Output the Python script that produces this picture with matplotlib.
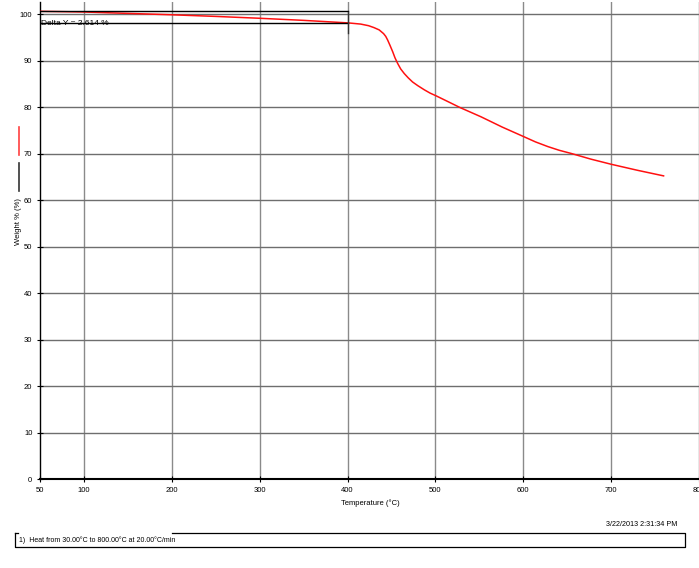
import matplotlib.pyplot as plt
from matplotlib.lines import Line2D

plt.rcParams['font.family'] = ['Liberation Sans', 'DejaVu Sans']

# TGA curve
temperature = [50, 100, 150, 200, 250, 300, 350, 401, 415, 424, 430, 436, 441, 443.5, 445.7,
               448.5, 451.4, 454, 457, 460.5, 464.6, 469, 474, 480, 487.5, 494, 501,
               514, 528, 552, 576, 601, 614, 628, 641, 655, 677, 700, 730, 759.7]
weight = [100.6, 100.45, 100.15, 99.85, 99.5, 99.1, 98.65, 98.1, 97.85, 97.5, 97.1, 96.6,
          95.8, 95.2, 94.4, 93.2, 91.9, 90.6, 89.4, 88.2, 87.2, 86.3, 85.4, 84.6, 83.7,
          83.0, 82.4, 81.2, 79.9, 77.9, 75.7, 73.6, 72.5, 71.5, 70.7, 70.0, 68.8, 67.7,
          66.4, 65.2]

delta_x = [50, 400]
delta_top = 100.75
delta_bottom = 98.14
delta_label = "Delta Y = 2.614 %"

x_ticks = [50, 100, 200, 300, 400, 500, 600, 700, 800]
y_ticks = [0, 10, 20, 30, 40, 50, 60, 70, 80, 90, 100]

W, H = 699, 568
fig = plt.figure(figsize=(W / 100, H / 100), dpi=100)
ax = fig.add_axes([40 / W, 1 - 479 / H, 659 / W, 477 / H])

ax.set_xlim(50, 800)
ax.set_ylim(0, 102.6)

for x in x_ticks[1:]:
    ax.axvline(x, color='#8a8a8a', lw=1.0, zorder=1)
for y in y_ticks[1:]:
    ax.axhline(y, color='#6e6e6e', lw=1.0, zorder=1)

ax.plot(temperature, weight, color='#ff1010', lw=1.1, zorder=3)

# delta Y marker
ax.plot(delta_x, [delta_top, delta_top], color='black', lw=1.0, zorder=4)
ax.plot(delta_x, [delta_bottom, delta_bottom], color='black', lw=1.0, zorder=4)
ax.plot([delta_x[1], delta_x[1]], [100.4, 96.0], color='#333333', lw=1.0, zorder=4)
ax.text(51, 97.95, delta_label, fontsize=6, va='center', ha='left', zorder=5)

ax.set_xticks(x_ticks)
ax.set_yticks(y_ticks)
ax.tick_params(axis='both', labelsize=5.5, direction='inout', length=5, width=0.8, pad=3)
for side in ('top', 'right'):
    ax.spines[side].set_visible(False)
ax.spines['left'].set_linewidth(1.0)
ax.spines['bottom'].set_linewidth(1.5)

fig.text(370 / W, 1 - 503 / H, "Temperature (°C)", fontsize=5.5, ha='center', va='center')
fig.text(19 / W, 1 - 222 / H, "Weight % (%)", fontsize=5.5, rotation=90,
         ha='center', va='center')

# series legend strokes on the left
fig.add_artist(Line2D([19 / W, 19 / W], [1 - 127 / H, 1 - 155 / H], color='#ff4040', lw=1.2))
fig.add_artist(Line2D([19 / W, 19 / W], [1 - 163 / H, 1 - 191 / H], color='#333333', lw=1.2))

fig.text(677 / W, 1 - 525 / H, "3/22/2013 2:31:34 PM", fontsize=5.2, ha='right', va='center')

# method box
bx0, bx1, by0, by1 = 15 / W, 685 / W, 1 - 547 / H, 1 - 533 / H
fig.add_artist(Line2D([bx0, bx0, bx1, bx1, 172 / W], [by1, by0, by0, by1, by1], color='black', lw=0.9))
fig.add_artist(Line2D([bx0, 18 / W], [by1, by1], color='black', lw=0.9))
fig.text(19 / W, 1 - 540 / H, "1)  Heat from 30.00°C to 800.00°C at 20.00°C/min",
         fontsize=5, ha='left', va='center')

fig.savefig('out.png', dpi=100)
